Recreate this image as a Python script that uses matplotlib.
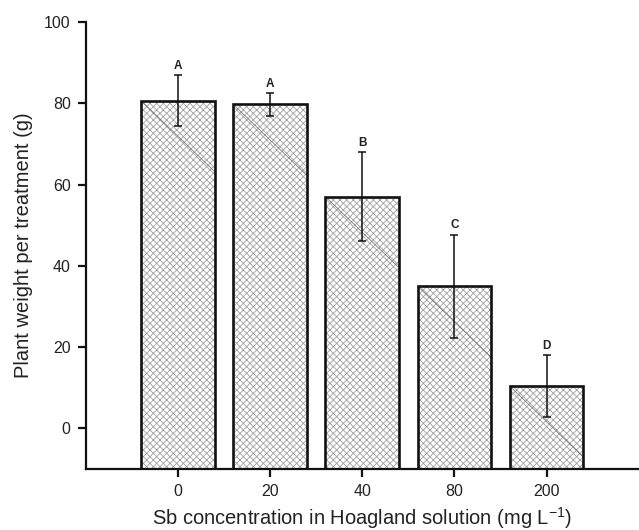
import numpy as np
import matplotlib
matplotlib.use("Agg")
import matplotlib.pyplot as plt

plt.rcParams['font.family'] = ['Liberation Sans', 'DejaVu Sans']
plt.rcParams['mathtext.fontset'] = 'custom'
plt.rcParams['mathtext.rm'] = 'Liberation Sans'
plt.rcParams['hatch.linewidth'] = 0.6

# data
concentrations = ['0', '20', '40', '80', '200']
weights = [80.6, 79.7, 57.0, 35.0, 10.4]
errors = [6.3, 2.8, 10.9, 12.7, 7.7]
letters = ['A', 'A', 'B', 'C', 'D']

ybottom = -10
width = 0.8

fig = plt.figure(figsize=(6.39, 5.3), dpi=100)
ax = fig.add_axes([0.1346, 0.1151, 0.8634, 0.8434])

x = np.arange(len(concentrations))
heights = np.array(weights) - ybottom

# hatch layer (grey cross hatch) and outline layer (black)
ax.bar(x, heights, width, bottom=ybottom, color='white', edgecolor='#a0a0a0',
       hatch='xxxxx', linewidth=0, zorder=1)
ax.bar(x, heights, width, bottom=ybottom, color='none', edgecolor='#111111',
       linewidth=1.9, zorder=3)

# the long diagonal stroke of the pattern, from the top-left corner of each bar
for xi, w in zip(x, weights):
    drop = min(17.5, w - ybottom)
    run = width * drop / 17.5
    ax.plot([xi - width / 2, xi - width / 2 + run], [w, w - drop],
            color='#666666', lw=0.5, zorder=2)

ax.errorbar(x, weights, yerr=errors, fmt='none', ecolor='#111111',
            elinewidth=1.1, capsize=3, capthick=1.1, zorder=4)

for xi, w, e, l in zip(x, weights, errors, letters):
    ax.text(xi, w + e + 0.8, l, ha='center', va='bottom', fontsize=8.5,
            fontweight='bold', color='#222222')

ax.set_xlim(-1.0, 4.99)
ax.set_ylim(ybottom, 100)
ax.set_xticks(x)
ax.set_xticklabels(concentrations)
ax.set_yticks([0, 20, 40, 60, 80, 100])

for s in ['top', 'right']:
    ax.spines[s].set_visible(False)
for s in ['left', 'bottom']:
    ax.spines[s].set_linewidth(1.6)
    ax.spines[s].set_color('#111111')

ax.tick_params(direction='out', length=6, width=1.6, color='#111111',
               labelsize=11.5, labelcolor='#222222', pad=5)

ax.set_ylabel('Plant weight per treatment (g)', fontsize=14.5, color='#222222',
              labelpad=8)
ax.set_xlabel(r'Sb concentration in Hoagland solution (mg L$^{\mathregular{-1}}$)',
              fontsize=14.5, color='#222222', labelpad=4)

fig.savefig('out.png', dpi=100)
